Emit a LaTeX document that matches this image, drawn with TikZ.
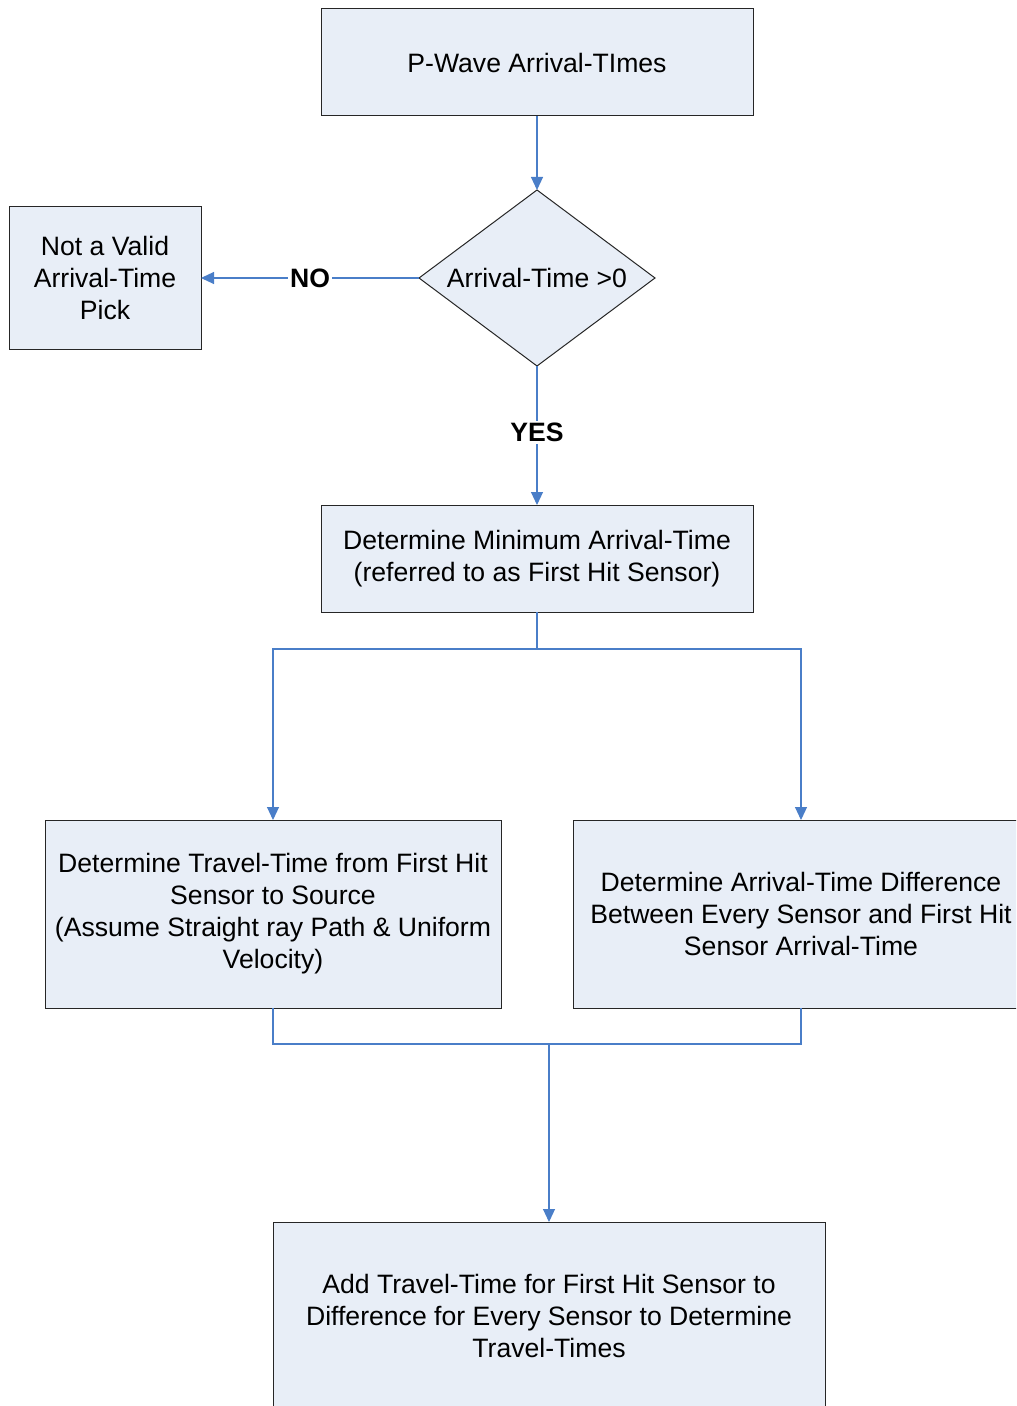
\documentclass[tikz,border=0pt]{standalone}
\usepackage{fontspec}
\setmainfont{Liberation Sans}
\usetikzlibrary{shapes.geometric,arrows.meta}
\definecolor{boxfill}{RGB}{232,238,247}
\definecolor{linkblue}{RGB}{74,126,200}
\begin{document}
\begin{tikzpicture}[x=0.5pt,y=-0.5pt,
  every node/.style={font=\fontsize{13.3}{16}\selectfont},
  procbox/.style={draw=black!85,line width=0.5pt,fill=boxfill,inner sep=0pt,outer sep=0pt,align=center},
  decbox/.style={procbox,shape=diamond,aspect=1.34},
  link/.style={draw=linkblue,line width=0.55pt},
  arrowlink/.style={link,-{Triangle[length=6.5pt,width=6pt]}},
  lbl/.style={fill=white,inner sep=1pt,font=\fontsize{13.3}{16}\selectfont\bfseries}]
\useasboundingbox (0,0) rectangle (1016,1406);
\clip (0,0) rectangle (1016,1406);
\node[procbox,minimum width=216pt,minimum height=53.5pt] (top) at (537,62.5) {P-Wave Arrival-TImes};
\node[decbox,minimum width=118pt,minimum height=88pt] (dec) at (537,278) {Arrival-Time >0};
\node[procbox,minimum width=96pt,minimum height=71.5pt] (bad) at (105,278) {Not a Valid\\Arrival-Time\\Pick};
\node[procbox,minimum width=216pt,minimum height=53.5pt] (minb) at (537,558.5) {Determine Minimum Arrival-Time\\(referred to as First Hit Sensor)};
\node[procbox,minimum width=228pt,minimum height=94pt] (left) at (273,914) {Determine Travel-Time from First Hit\\Sensor to Source\\(Assume Straight ray Path \& Uniform\\Velocity)};
\node[procbox,minimum width=228pt,minimum height=94pt] (right) at (801,914) {Determine Arrival-Time Difference\\Between Every Sensor and First Hit\\Sensor Arrival-Time};
\node[procbox,minimum width=276pt,minimum height=94pt] (bottom) at (549,1316) {Add Travel-Time for First Hit Sensor to\\Difference for Every Sensor to Determine\\Travel-Times};
\coordinate (split) at (537,649);
\coordinate (merge) at (549,1044);
\draw[arrowlink] (top.south) -- (dec.north);
\draw[arrowlink] (dec.west) -- node[lbl] {NO} (dec.west -| bad.east);
\draw[arrowlink] (dec.south) -- node[lbl,pos=0.48] {YES} (minb.north);
\draw[link] (minb.south) -- (split);
\draw[arrowlink] (split) -| (left.north);
\draw[arrowlink] (split) -| (right.north);
\draw[link] (left.south) |- (merge);
\draw[link] (right.south) |- (merge);
\draw[arrowlink] (merge) -- (bottom.north);
\end{tikzpicture}
\end{document}
